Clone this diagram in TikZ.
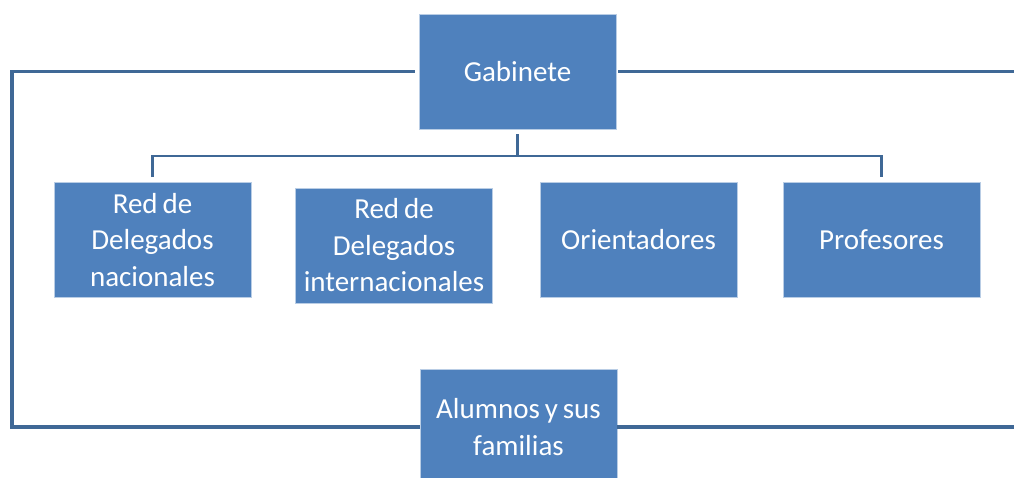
\documentclass[tikz,border=0pt]{standalone}
\usepackage{fontspec}
\setmainfont{Carlito}
\definecolor{boxblue}{HTML}{4F81BD}
\definecolor{lineblue}{HTML}{3F6896}
\definecolor{boxedge}{HTML}{B9CDE5}
\newcommand{\boxfont}{\fontsize{29}{36.5}\selectfont\spaceskip=0.17em\relax}
\begin{document}
\begin{tikzpicture}[x=1pt,y=-1pt,
  box/.style={rectangle, fill=boxblue, draw=boxedge, line width=0.8pt,
    minimum width=197pt, minimum height=115pt, text=white,
    font=\boxfont, align=center, inner sep=0pt},
  loopline/.style={draw=lineblue, line width=3.2pt},
  busline/.style={draw=lineblue, line width=2.6pt}]
\useasboundingbox (0,0) rectangle (1014,477);
\fill[white] (0,0) rectangle (1014,477);
\node[box] (gab) at (517.5,71.5) {Gabinete};
\node[box] (red1) at (152.5,240) {Red de\\Delegados\\nacionales};
\node[box] (red2) at (394,245.5) {Red de\\Delegados\\internacionales};
\node[box] (ori) at (638.5,240) {Orientadores};
\node[box] (pro) at (881.5,240) {Profesores};
\node[box] (alu) at (518.5,427) {Alumnos y sus\\familias};
\coordinate (L) at (12,0);
\coordinate (R) at (1018,0);
\coordinate (bus) at (517.5,156);
\draw[loopline, shorten <=4pt] (gab.west) -| (L |- alu.west) -- (alu.west);
\draw[loopline, shorten <=2pt] (gab.east) -| (R |- alu.east) -- (alu.east);
\draw[busline, shorten <=5pt] (gab.south) -- (bus);
\draw[busline, shorten <=5pt, shorten >=5pt] (red1.north) |- (bus) -| (pro.north);
\end{tikzpicture}
\end{document}
